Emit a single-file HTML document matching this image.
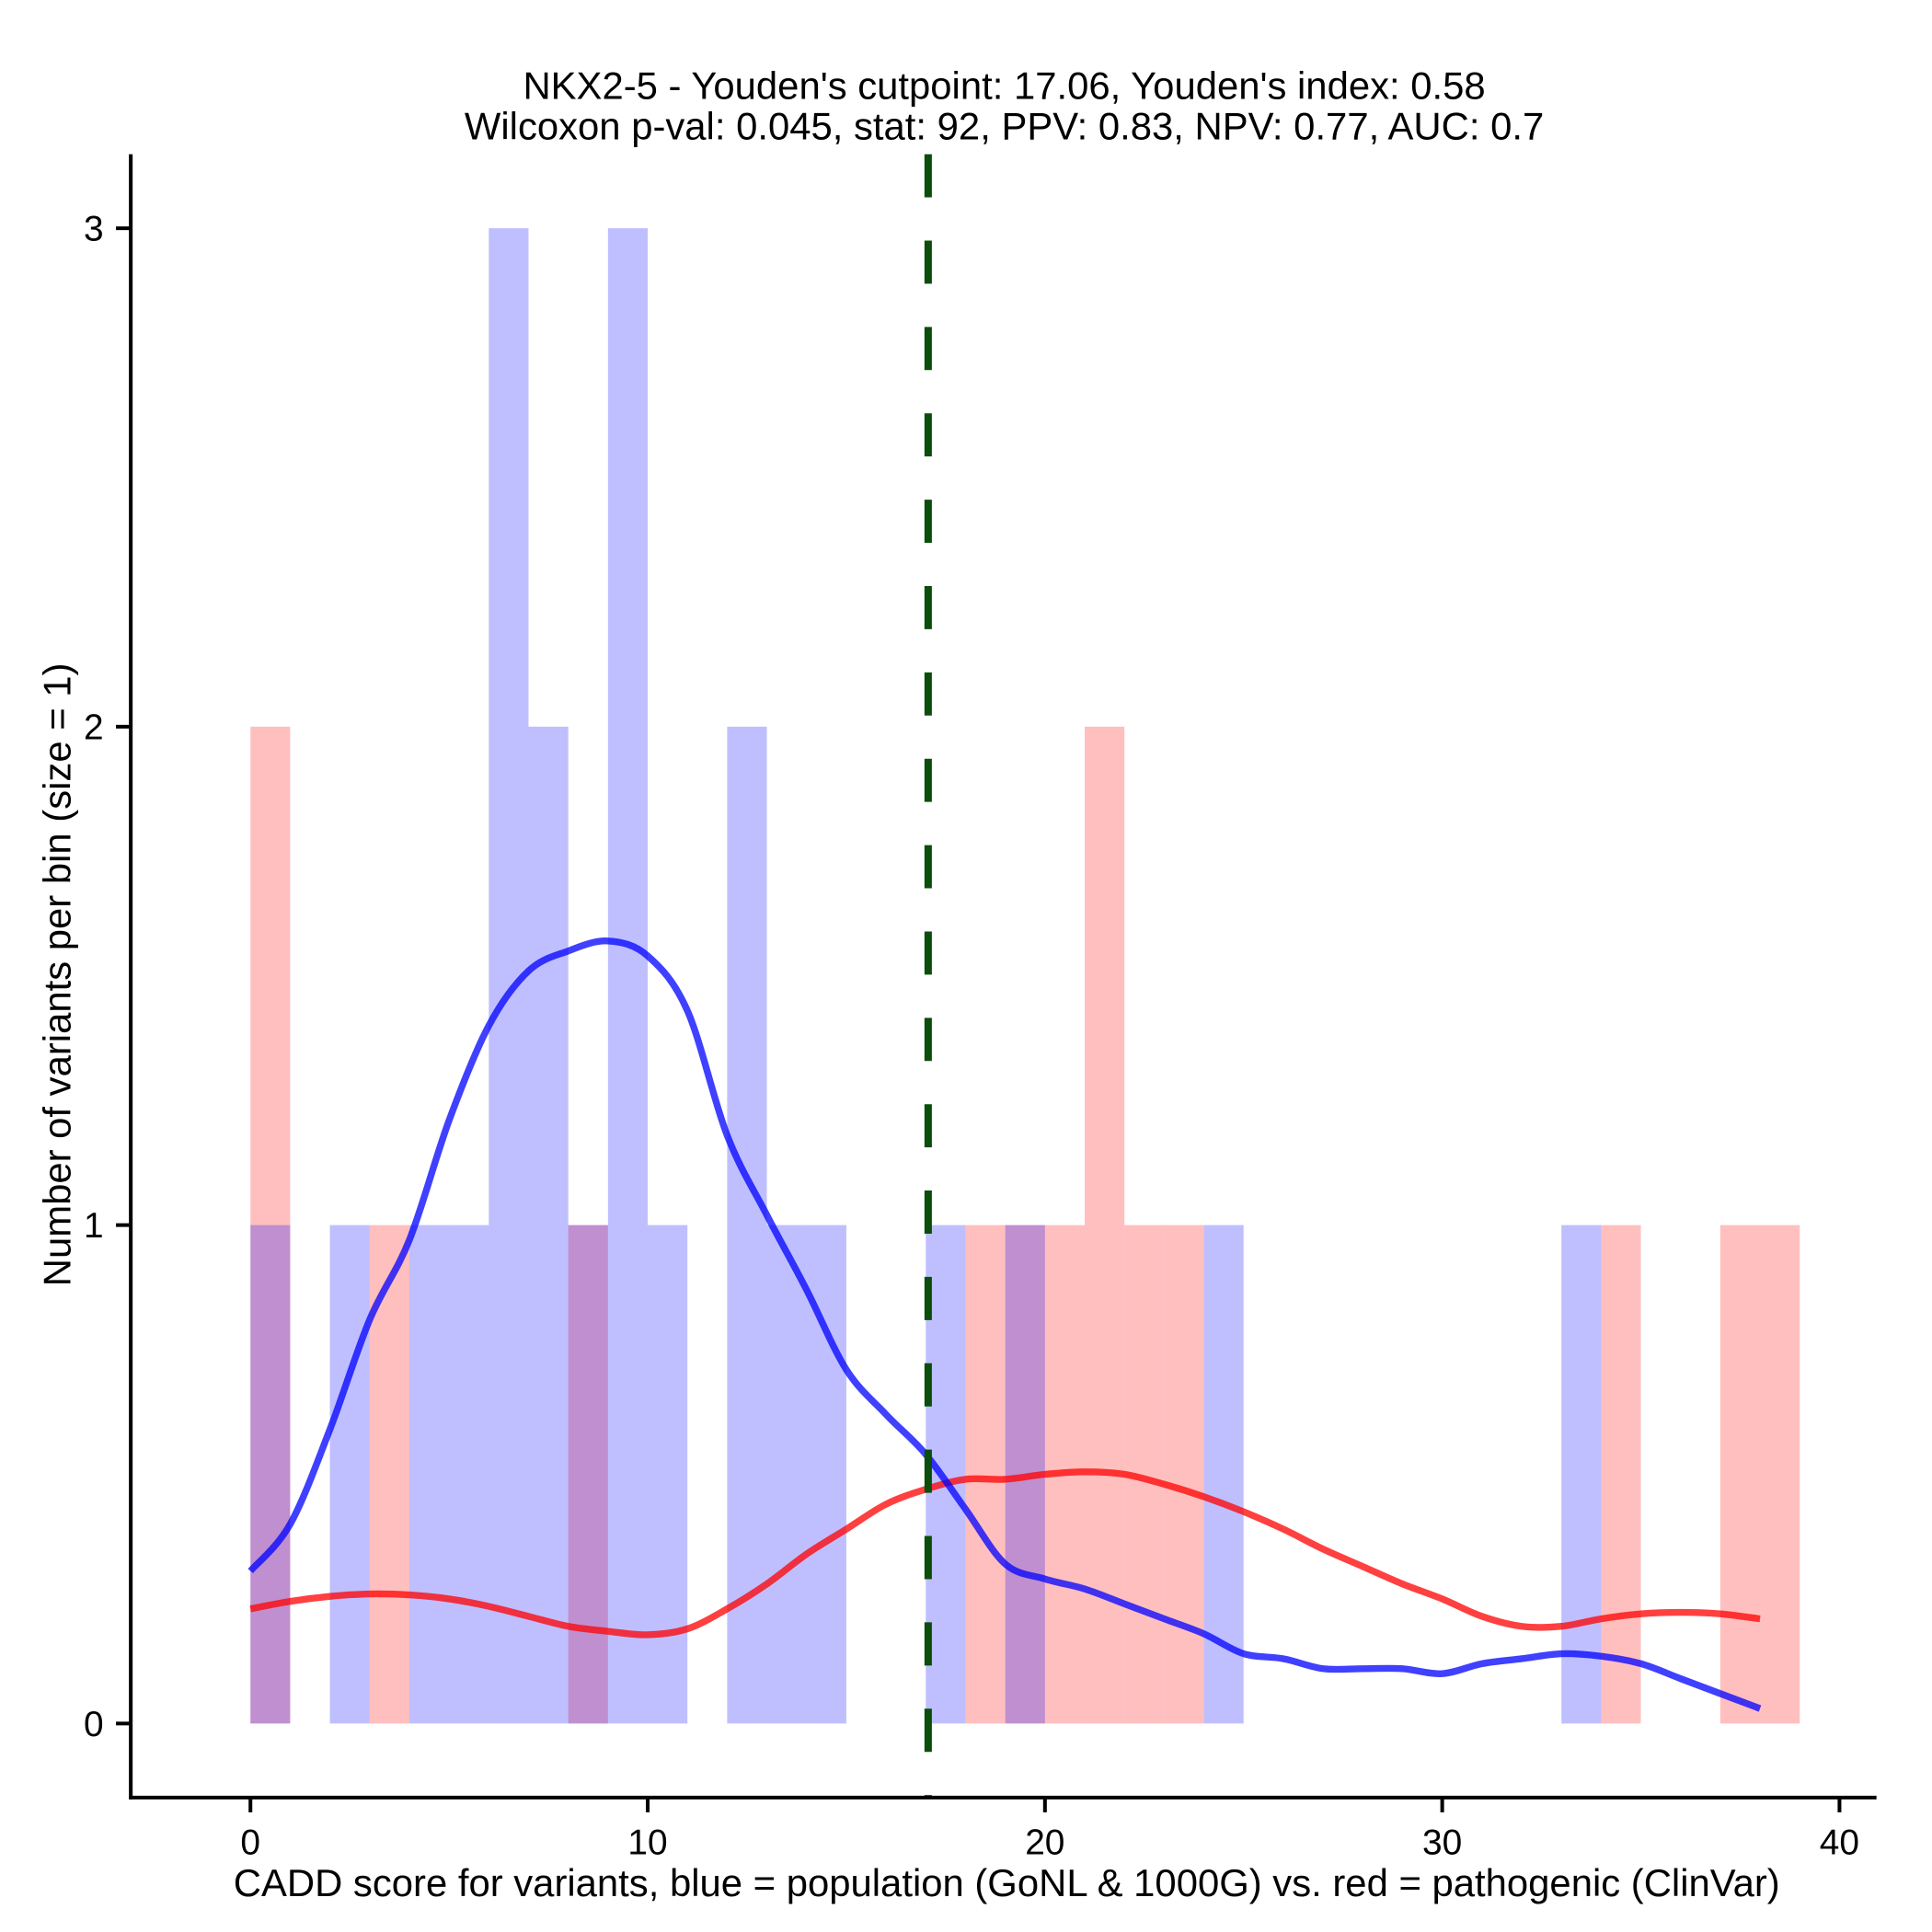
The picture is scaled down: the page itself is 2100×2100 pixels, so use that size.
<!DOCTYPE html>
<html><head><meta charset="utf-8"><style>
html,body{margin:0;padding:0;background:#fff;}
svg{display:block;font-family:"Liberation Sans",Arial,sans-serif;}
</style></head><body>
<svg id="chart" width="2100" height="2100" viewBox="0 0 1566 1566" xmlns="http://www.w3.org/2000/svg">
<rect width="1566" height="1566" fill="#fff"/>
<g id="bars"></g>
<g id="curves"></g>
<g id="axes"></g>
<text x="814" y="80" font-size="31.2" text-anchor="middle">NKX2-5 - Youden's cutpoint: 17.06, Youden's index: 0.58</text>
<text x="814" y="113" font-size="31.2" text-anchor="middle">Wilcoxon p-val: 0.045, stat: 92, PPV: 0.83, NPV: 0.77, AUC: 0.7</text>
<text x="816" y="1537" font-size="31.2" text-anchor="middle">CADD score for variants, blue = population (GoNL &amp; 1000G) vs. red = pathogenic (ClinVar)</text>
<text transform="translate(57,790) rotate(-90)" font-size="31.2" text-anchor="middle">Number of variants per bin (size = 1)</text>
</svg>
<script>
const blueBins=[0,2,4,5,6,7,8,9,10,12,13,14,17,19,24,33];
const blueCounts=[1,1,1,1,3,2,1,3,1,2,1,1,1,1,1,1];
const redBins=[0,3,8,18,19,20,21,22,23,34,37,38];
const redCounts=[2,1,1,1,1,1,2,1,1,1,1,1];
const densX=[0,1,2,3,4,5,6,7,8,9,10,11,12,13,14,15,16,17,18,19,20,21,22,23,24,25,26,27,28,29,30,31,32,33,34,35,36,37,38];
const blueDens=[0.306,0.40,0.59,0.81,0.97,1.21,1.40,1.51,1.55,1.57,1.54,1.43,1.18,1.02,0.87,0.71,0.62,0.54,0.43,0.32,0.29,0.27,0.24,0.21,0.18,0.14,0.13,0.11,0.11,0.11,0.10,0.12,0.13,0.14,0.135,0.12,0.09,0.06,0.03];
const redDens=[0.23,0.245,0.255,0.26,0.258,0.25,0.235,0.215,0.195,0.185,0.178,0.19,0.23,0.28,0.34,0.39,0.44,0.47,0.49,0.49,0.50,0.505,0.50,0.48,0.455,0.425,0.39,0.35,0.315,0.28,0.25,0.215,0.195,0.195,0.21,0.22,0.223,0.22,0.21];
const xTicks=[0,10,20,30,40];
const yTicks=[0,1,2,3];
const cutpoint=17.06;

const NS="http://www.w3.org/2000/svg";
const X=v=>203+v*32.2;
const Y=v=>1397-v*404;
function mk(t,a,p){const e=document.createElementNS(NS,t);for(const k in a)e.setAttribute(k,a[k]);p.appendChild(e);return e;}
const bars=document.getElementById('bars'),curves=document.getElementById('curves'),axes=document.getElementById('axes');
redBins.forEach((b,i)=>{const r=mk('rect',{x:X(b),y:Y(redCounts[i]),width:X(b+1)-X(b),height:Y(0)-Y(redCounts[i]),fill:'#ff0000','fill-opacity':0.25},bars);

});
blueBins.forEach((b,i)=>{const r=mk('rect',{x:X(b),y:Y(blueCounts[i]),width:X(b+1)-X(b),height:Y(0)-Y(blueCounts[i]),fill:'#0000ff','fill-opacity':0.25},bars);

});
function path(xs,ys){const p=xs.map((x,i)=>[X(x),Y(ys[i])]);let d='M'+p[0][0]+','+p[0][1];
for(let i=0;i<p.length-1;i++){const p0=p[i-1]||p[i],p1=p[i],p2=p[i+1],p3=p[i+2]||p2;
d+=' C'+(p1[0]+(p2[0]-p0[0])/6)+','+(p1[1]+(p2[1]-p0[1])/6)+' '+(p2[0]-(p3[0]-p1[0])/6)+','+(p2[1]-(p3[1]-p1[1])/6)+' '+p2[0]+','+p2[1];}return d;}
const rl=mk('path',{d:path(densX,redDens),fill:'none',stroke:'#ff0000','stroke-opacity':0.75,'stroke-width':5.5},curves);


const bl=mk('path',{d:path(densX,blueDens),fill:'none',stroke:'#0000ff','stroke-opacity':0.75,'stroke-width':5.5},curves);


const cl=mk('line',{x1:X(cutpoint),x2:X(cutpoint),y1:125,y2:1457,stroke:'#0b4d0b','stroke-width':6,'stroke-dasharray':'35,35'},curves);


const ya=mk('line',{x1:106,x2:106,y1:125,y2:1458.5,stroke:'#000','stroke-width':3},axes);


const xa=mk('line',{x1:104.5,x2:1521,y1:1457,y2:1457,stroke:'#000','stroke-width':3},axes);


xTicks.forEach(t=>{const l=mk('line',{x1:X(t),x2:X(t),y1:1457,y2:1469,stroke:'#000','stroke-width':3},axes);


const tx=mk('text',{x:X(t),y:1503,'font-size':29,'text-anchor':'middle'},axes);tx.textContent=t;

});
yTicks.forEach(t=>{const l=mk('line',{x1:94,x2:106,y1:Y(t),y2:Y(t),stroke:'#000','stroke-width':3},axes);


const tx=mk('text',{x:84,y:Y(t)+10,'font-size':29,'text-anchor':'end'},axes);tx.textContent=t;

});
</script>
</body></html>
